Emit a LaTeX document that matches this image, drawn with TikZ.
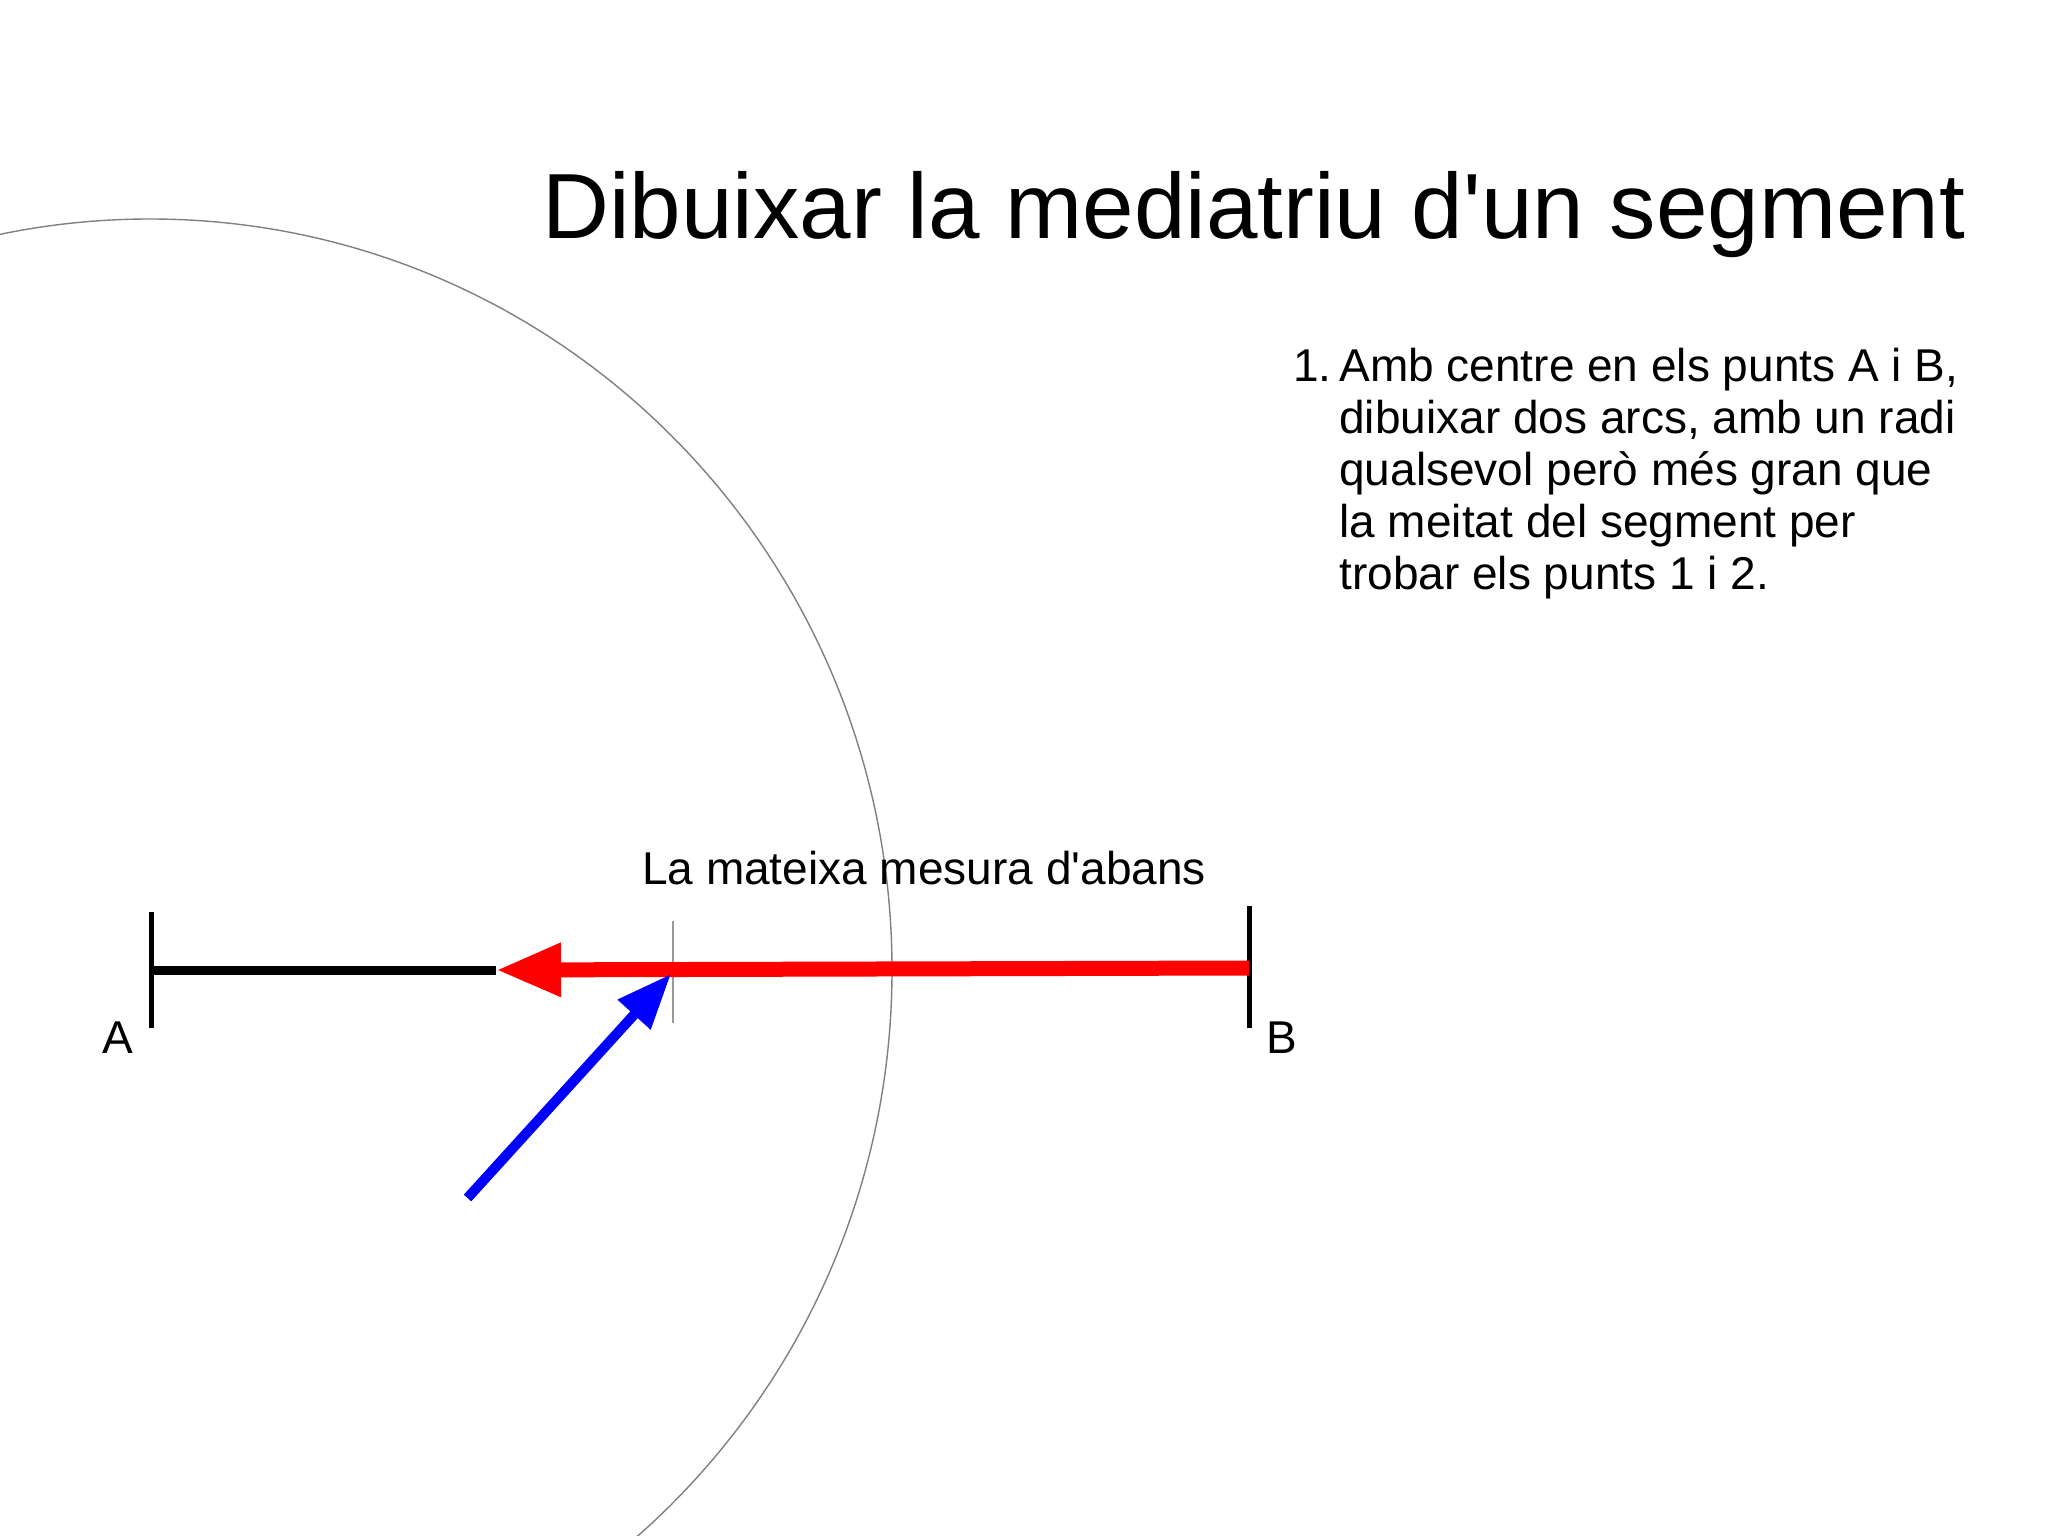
\documentclass[tikz,border=0pt]{standalone}
\usepackage{fontspec}
\setmainfont{Liberation Sans}[Ligatures=TeXOff]
\usetikzlibrary{arrows.meta}
\begin{document}
\begin{tikzpicture}[x=0.5pt,y=-0.5pt,
  tick/.style={line width=2.5pt,black},
  seg/.style={line width=4.5pt,black},
  redarrow/.style={line width=7.5pt,red,-{Triangle[length=32.5pt,width=25pt]}},
  bluearrow/.style={line width=5pt,blue,-{Triangle[length=27.5pt,width=21pt]}},
  compass/.style={line width=0.7pt,gray},
  thinmark/.style={line width=0.6pt,gray!80},
  txt/.style={font=\fontsize{23pt}{26pt}\selectfont,inner sep=0pt},
  title/.style={font=\fontsize{46.3pt}{52pt}\selectfont,inner sep=0pt}]
\useasboundingbox (0,0) rectangle (2048,1535);
\fill[white] (0,0) rectangle (2048,1535);
% points
\coordinate (A) at (151.5,970);
\coordinate (C) at (150,970);
\coordinate (B) at (1249,968);
\coordinate (Atop) at (151.5,912);
\coordinate (Abot) at (151.5,1028);
\coordinate (Btop) at (1249,906);
\coordinate (Bbot) at (1249,1028);
\coordinate (Rtip) at (496,970);
\coordinate (Mtop) at (673,921);
\coordinate (Mbot) at (673,1023);
\coordinate (Btail) at (467.5,1198);
\coordinate (Bltip) at (671,974);
% compass arc centred on A
\begin{scope}
\clip (0,0) rectangle (2048,1535);
\draw[compass] (C) ellipse[x radius=742, y radius=751];
\end{scope}
% segment
\draw[seg] (A) -- (Rtip);
\draw[tick] (Atop) -- (Abot);
\draw[tick] (Btop) -- (Bbot);
\draw[thinmark] (Mtop) -- (Mbot);
\draw[redarrow] (B) -- (Rtip);
\draw[bluearrow] (Btail) -- (Bltip);
% labels
\node[txt,anchor=base] (lA) at (118,1053) {A};
\node[txt,anchor=base] (lB) at (1282,1053) {B};
\node[txt,anchor=base] (lmes) at (924,884) {La mateixa mesura d'abans};
% title
\node[title,anchor=base west] (ttl) at (542,239) {Dibuixar la mediatriu d'un segment};
% list
\node[txt,anchor=base west] (num) at (1293,381) {1.};
\node[txt,anchor=base west] (list) at (1339,381) {\begin{tabular}[t]{@{}l@{}}Amb centre en els punts A i B,\\dibuixar dos arcs, amb un radi\\qualsevol però més gran que\\la meitat del segment per\\trobar els punts 1 i 2.\end{tabular}};
\end{tikzpicture}
\end{document}
